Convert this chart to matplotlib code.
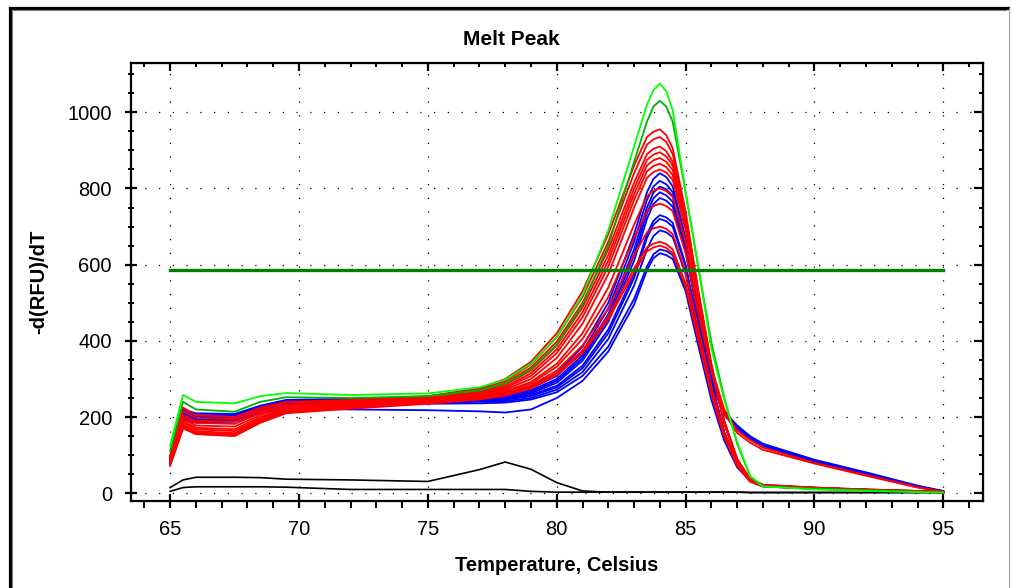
import matplotlib
matplotlib.use("Agg")
import matplotlib.pyplot as plt
from matplotlib.lines import Line2D
from matplotlib.ticker import MultipleLocator

plt.rcParams['font.family'] = ['Liberation Sans', 'DejaVu Sans']

# ---------------- data ----------------
temps = [65, 65.5, 66, 67.5, 68.5, 69.5, 72, 75, 77, 78, 79, 80, 81, 82, 82.5, 83, 83.5,
         83.75, 84, 84.25, 84.5, 85, 85.5, 86, 86.5, 87, 87.5, 88, 90, 92, 94, 95]

green_curves = [
    [125, 258, 240, 236, 255, 263, 258, 262, 278, 298, 340, 410, 520, 690, 800, 910, 1020,
     1058, 1075, 1055, 1005, 790, 590, 380, 245, 135, 45, 18, 10, 6, 3, 2],
    [110, 240, 220, 214, 240, 252, 250, 255, 270, 288, 325, 390, 495, 650, 760, 870, 975,
     1015, 1030, 1015, 975, 790, 590, 395, 250, 130, 45, 18, 12, 8, 4, 2],
]

red_curves = [
    [100, 225, 205, 200, 225, 240, 245, 255, 275, 300, 345, 420, 530, 680, 770, 860, 935,
     949, 955, 940, 905, 740, 530, 340, 190, 90, 38, 22, 15, 10, 6, 3],
    [95, 215, 198, 195, 220, 238, 242, 252, 272, 295, 338, 410, 515, 660, 750, 840, 915,
     929, 935, 922, 890, 730, 525, 335, 185, 88, 36, 20, 14, 10, 6, 3],
    [90, 205, 190, 188, 215, 232, 240, 250, 268, 290, 330, 398, 500, 640, 728, 815, 890,
     904, 910, 898, 870, 720, 520, 330, 185, 88, 36, 20, 14, 9, 5, 3],
    [88, 200, 185, 182, 210, 230, 238, 248, 265, 285, 322, 388, 488, 625, 712, 800, 875,
     889, 895, 884, 860, 715, 520, 335, 190, 90, 38, 22, 15, 10, 6, 3],
    [85, 195, 178, 175, 205, 226, 236, 246, 262, 280, 315, 378, 475, 610, 698, 785, 860,
     874, 880, 870, 848, 708, 515, 330, 185, 88, 36, 20, 14, 9, 5, 2],
    [82, 190, 172, 168, 200, 222, 234, 245, 260, 276, 308, 368, 462, 595, 682, 770, 845,
     859, 865, 856, 835, 700, 512, 330, 185, 88, 36, 20, 14, 9, 5, 2],
    [80, 185, 168, 163, 196, 220, 232, 244, 258, 272, 300, 355, 445, 575, 662, 750, 828,
     843, 850, 842, 822, 690, 505, 325, 182, 86, 35, 20, 14, 9, 5, 2],
    [78, 180, 163, 158, 192, 218, 230, 242, 255, 268, 292, 340, 420, 540, 622, 705, 780,
     794, 800, 793, 778, 660, 490, 330, 220, 165, 140, 120, 80, 48, 16, 4],
    [76, 178, 160, 155, 190, 216, 228, 240, 252, 265, 288, 332, 405, 515, 592, 670, 740,
     754, 760, 754, 740, 630, 470, 320, 210, 158, 133, 114, 78, 46, 15, 4],
    [75, 175, 158, 153, 188, 214, 226, 238, 250, 262, 283, 322, 388, 485, 555, 625, 685,
     695, 700, 694, 680, 580, 430, 280, 160, 80, 35, 20, 14, 9, 5, 2],
    [74, 172, 156, 152, 186, 212, 224, 236, 248, 258, 278, 315, 375, 465, 528, 590, 645,
     655, 660, 654, 640, 550, 410, 265, 150, 75, 32, 18, 12, 8, 5, 2],
    [72, 170, 155, 150, 185, 210, 222, 235, 246, 256, 275, 310, 368, 455, 518, 580, 635,
     645, 650, 644, 630, 540, 400, 260, 148, 72, 30, 18, 12, 8, 5, 2],
]

blue_curves = [
    [95, 220, 210, 208, 230, 245, 248, 250, 255, 262, 280, 315, 385, 500, 590, 680, 790,
     825, 840, 830, 805, 670, 470, 290, 160, 80, 38, 22, 14, 9, 5, 3],
    [92, 215, 205, 205, 228, 243, 246, 248, 252, 258, 275, 308, 372, 485, 572, 660, 770,
     805, 820, 811, 790, 660, 465, 290, 160, 78, 36, 20, 14, 9, 5, 3],
    [90, 212, 202, 202, 226, 241, 244, 246, 250, 255, 270, 300, 362, 470, 555, 640, 750,
     789, 805, 798, 780, 655, 470, 310, 215, 178, 150, 130, 88, 55, 20, 6],
    [88, 208, 200, 200, 224, 240, 243, 245, 248, 252, 266, 295, 355, 460, 542, 625, 735,
     774, 790, 782, 765, 640, 455, 285, 158, 78, 36, 20, 14, 9, 5, 3],
    [86, 205, 198, 198, 222, 238, 241, 243, 246, 250, 262, 290, 348, 450, 530, 610, 720,
     759, 775, 768, 752, 635, 460, 305, 212, 175, 148, 128, 86, 52, 19, 5],
    [85, 202, 195, 196, 220, 236, 240, 242, 244, 248, 258, 282, 335, 430, 502, 575, 680,
     715, 730, 724, 710, 600, 430, 270, 150, 75, 35, 20, 14, 9, 5, 3],
    [84, 200, 193, 194, 218, 234, 238, 240, 242, 245, 255, 278, 328, 420, 492, 565, 670,
     705, 720, 714, 700, 595, 440, 300, 210, 172, 145, 126, 84, 50, 18, 5],
    [82, 198, 190, 192, 215, 232, 236, 238, 240, 242, 250, 272, 318, 405, 475, 545, 640,
     675, 690, 685, 672, 575, 415, 262, 146, 72, 34, 20, 14, 9, 5, 3],
    [80, 195, 188, 190, 212, 228, 232, 235, 236, 238, 246, 265, 308, 385, 448, 510, 595,
     627, 640, 636, 625, 540, 410, 290, 205, 170, 143, 124, 82, 48, 17, 5],
    [78, 192, 185, 188, 210, 222, 220, 218, 215, 212, 220, 250, 295, 372, 434, 495, 585,
     617, 630, 625, 615, 530, 385, 245, 138, 68, 32, 18, 12, 8, 5, 2],
]

black_curves = [
    [15, 35, 42, 42, 41, 37, 35, 31, 62, 82, 63, 28, 6, 3, 3, 3, 3,
     3, 3, 3, 3, 3, 3, 3, 3, 3, 2, 2, 2, 2, 2, 2],
    [5, 15, 17, 17, 17, 16, 10, 10, 10, 10, 5, 3, 3, 3, 3, 3, 3,
     3, 3, 3, 3, 3, 3, 3, 3, 3, 2, 2, 2, 2, 2, 2],
]

threshold_value = 585
threshold_range = [65, 95]

x_major = [65, 70, 75, 80, 85, 90, 95]
y_major = [0, 200, 400, 600, 800, 1000]

# ---------------- figure ----------------
W, H = 1011, 588
fig = plt.figure(figsize=(W / 100, H / 100), dpi=100)
ax = fig.add_axes([130.7 / W, 1 - 500.7 / H, (983.3 - 130.7) / W, (500.7 - 63.3) / H])

ax.set_xlim(63.47, 96.55)
ax.set_ylim(-19.5, 1128.5)

for vals in black_curves:
    ax.plot(temps, vals, color='black', lw=1.2, zorder=2)
for vals in blue_curves:
    ax.plot(temps, vals, color='#0000FF', lw=1.3, zorder=3)
for vals in red_curves:
    ax.plot(temps, vals, color='#FF0000', lw=1.3, zorder=3)
ax.plot(temps, green_curves[1], color='#00B000', lw=1.3, zorder=4)
ax.plot(temps, green_curves[0], color='#00FF00', lw=1.3, zorder=4)

ax.plot(threshold_range, [threshold_value, threshold_value], color='#008000', lw=2.4, zorder=5)

# grid
ax.set_xticks(x_major)
ax.set_yticks(y_major)
ax.xaxis.set_minor_locator(MultipleLocator(1))
ax.yaxis.set_minor_locator(MultipleLocator(50))
ax.grid(True, which='major', color='black', linestyle=(0, (1, 10)), lw=0.9)

for s in ax.spines.values():
    s.set_linewidth(1.6)
    s.set_color('black')

ax.tick_params(axis='x', which='major', direction='inout', length=10, width=1.6,
               labelsize=14.5, pad=9, top=False)
ax.tick_params(axis='x', which='minor', direction='out', length=5, width=1.4, top=False)
ax.tick_params(axis='y', which='major', direction='inout', length=9, width=1.6,
               labelsize=14.5, pad=9, right=False)
ax.tick_params(axis='y', which='minor', direction='inout', length=5, width=1.4, right=False)

# top and right inward ticks
secx = ax.secondary_xaxis('top')
secx.set_xticks(x_major)
secx.xaxis.set_minor_locator(MultipleLocator(1))
secx.tick_params(which='major', direction='in', length=6, width=1.6, labeltop=False)
secx.tick_params(which='minor', direction='in', length=3, width=1.4)
secx.set_xticklabels([])
secy = ax.secondary_yaxis('right')
secy.set_yticks(y_major)
secy.yaxis.set_minor_locator(MultipleLocator(50))
secy.tick_params(which='major', direction='in', length=6.5, width=1.6, labelright=False)
secy.tick_params(which='minor', direction='in', length=3, width=1.4)
secy.set_yticklabels([])

ax.set_xlabel('Temperature, Celsius', fontsize=14.5, fontweight='bold', labelpad=12)
ax.set_ylabel('-d(RFU)/dT', fontsize=14.5, fontweight='bold', labelpad=14)

fig.text(511 / W, 1 - 39.5 / H, 'Melt Peak', fontsize=15, fontweight='bold',
         ha='center', va='center')

# window frame
def px(x, y):
    return x / W, 1 - y / H

for (x0, y0, x1, y1, c, lw) in [
    (9.5, 8, 9.5, 588, 'black', 2.3),
    (9.5, 8, 1008, 8, 'black', 2.3),
    (11.8, 10, 11.8, 588, '#808080', 0.8),
    (11.8, 10, 1006, 10, '#808080', 0.8),
    (1008.5, 8, 1008.5, 588, '#A0A0A0', 0.8),
]:
    a, b = px(x0, y0)
    c2, d = px(x1, y1)
    fig.add_artist(Line2D([a, c2], [b, d], transform=fig.transFigure, color=c, lw=lw))

fig.savefig('out.png', dpi=100)
